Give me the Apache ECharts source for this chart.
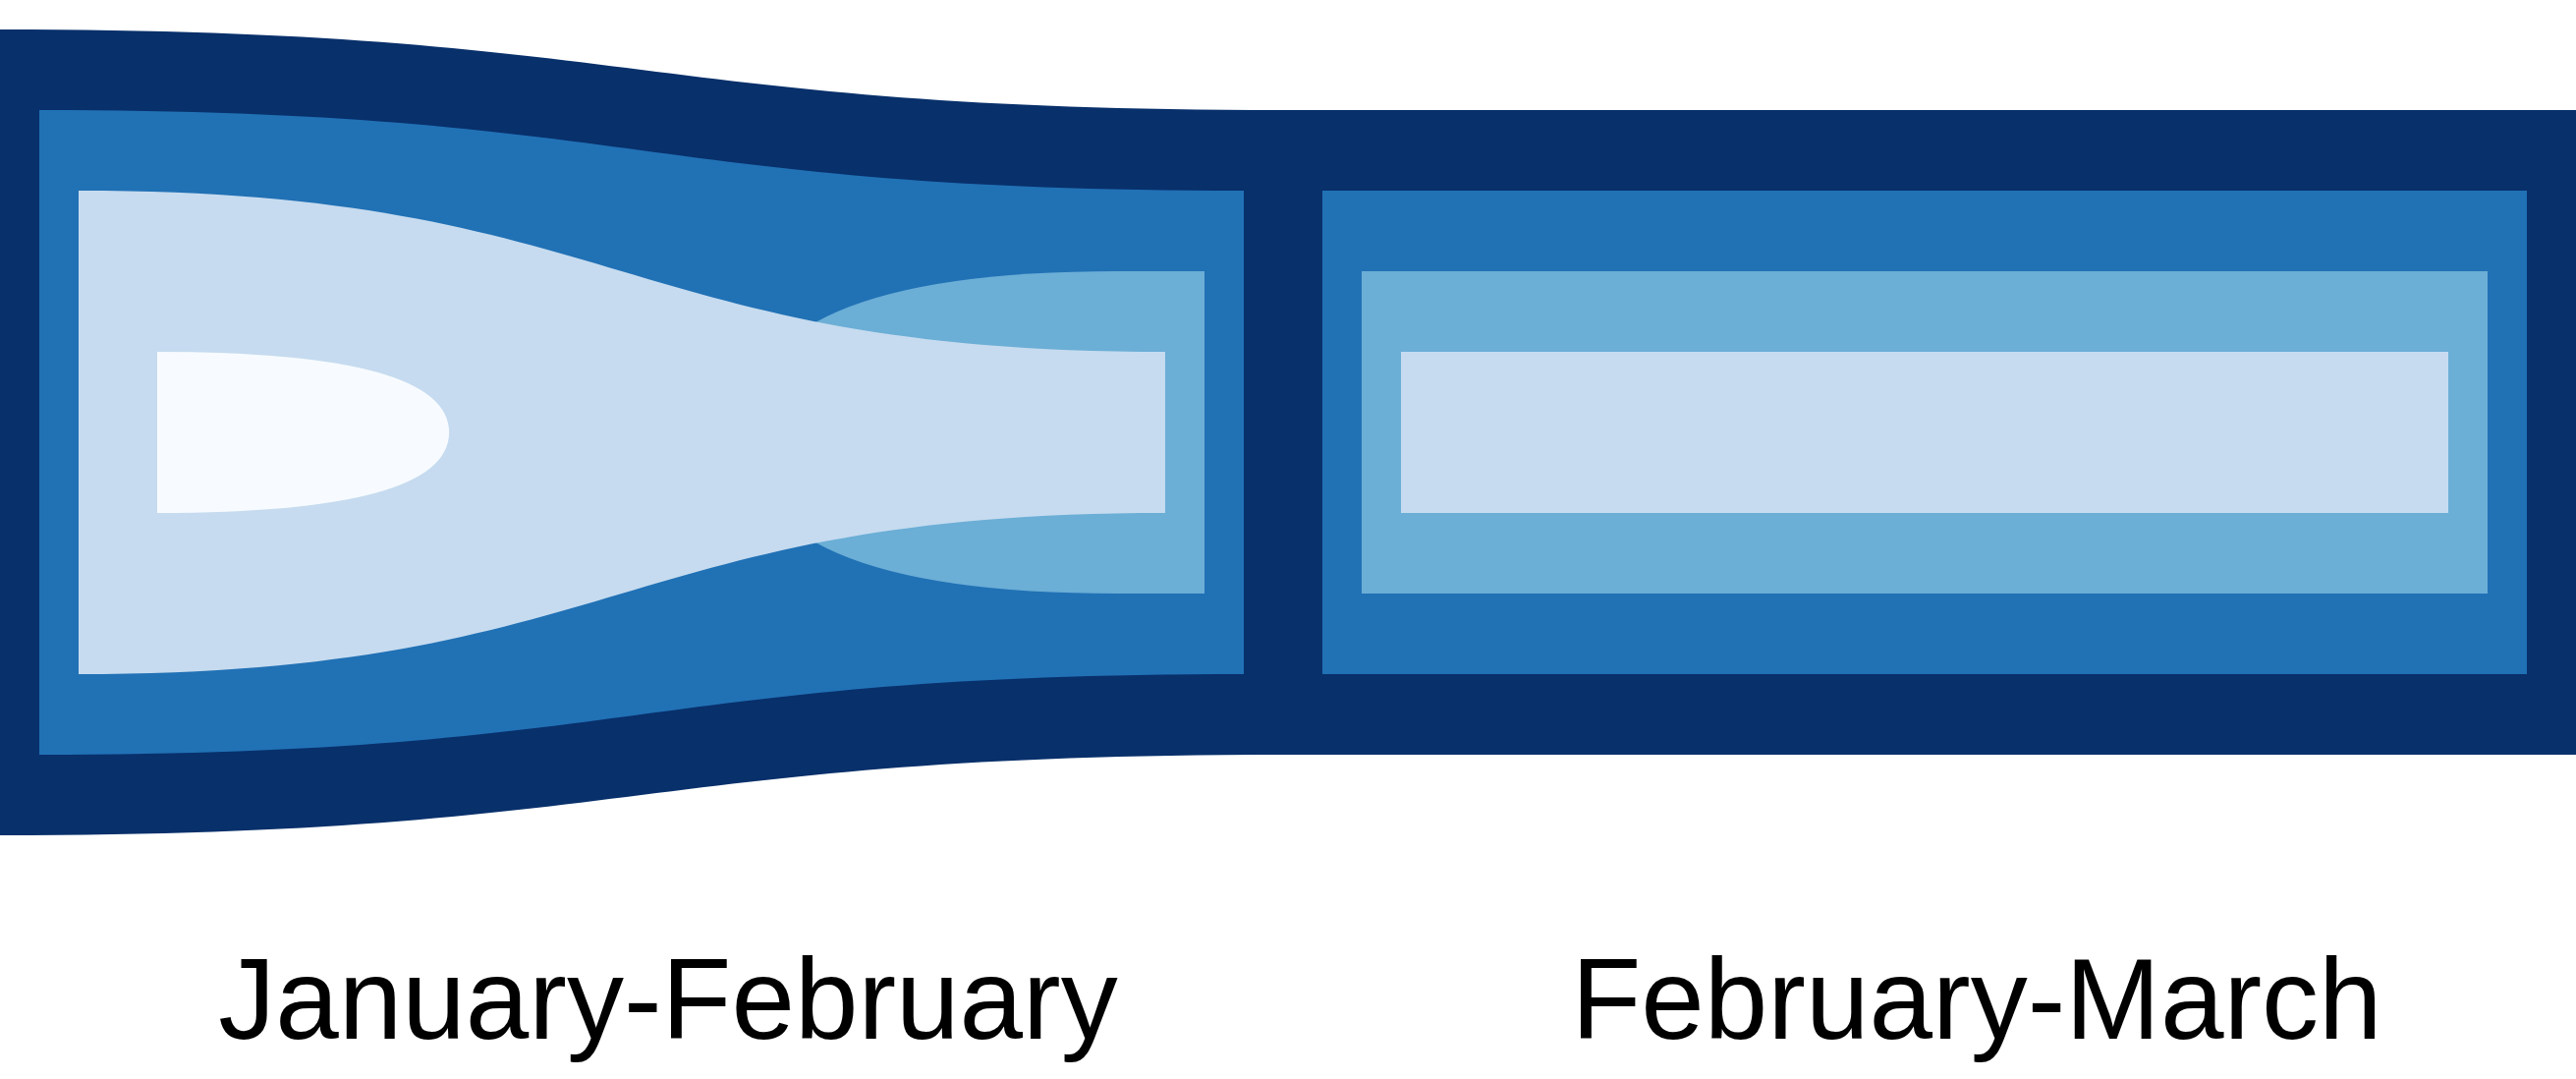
<!DOCTYPE html>
<html><head><meta charset="utf-8">
<script src="https://cdn.jsdelivr.net/npm/echarts@6/dist/echarts.min.js"></script>
<style>html,body{margin:0;padding:0;background:#fff}#c{width:2622px;height:1098px}</style>
</head><body><div id="c"></div>
<script>
// ---- data ----
const periods = ['January-February', 'February-March'];
const setNames = ['A', 'B', 'C', 'D', 'E'];
// band height (units) of each set at the start / end of each period
const heightJanFebStart = [10, 8, 6, 0, 2];
const heightJanFebEnd   = [8, 6, 2, 4, 0];
const heightFebMarStart = [8, 6, 2, 4, 0];
const heightFebMarEnd   = [8, 6, 2, 4, 0];
// nesting depth of each set at the start / end of each period
const depthJanFebStart = [0, 1, 2, 2, 4];
const depthJanFebEnd   = [0, 1, 3, 2, 4];
const depthFebMarStart = [0, 1, 3, 2, 4];
const depthFebMarEnd   = [0, 1, 3, 2, 4];
// birth of D and death of E inside January-February (fraction of the period)
const birthD = [0.58, 0.871];
const deathE = 0.35;
// drawing order of the sets
const drawOrder = [0, 1, 3, 2, 4];

// ---- styles ----
const setColors = ['#08306b', '#2171b5', '#c6dbef', '#6baed6', '#f7fbff'];
const INSET = 40; // px horizontal inset per nesting level

const starts = [heightJanFebStart, heightFebMarStart];
const ends = [heightJanFebEnd, heightFebMarEnd];
const dStarts = [depthJanFebStart, depthFebMarStart];
const dEnds = [depthJanFebEnd, depthFebMarEnd];

const items = [];
periods.forEach((p, pi) => {
  drawOrder.forEach(si => {
    if (starts[pi][si] === 0 && ends[pi][si] === 0) return;
    items.push([pi, si]);
  });
});

function renderItem(params, api) {
  const pi = api.value(0), si = api.value(1);
  const cs = params.coordSys;
  const h0 = starts[pi][si], h1 = ends[pi][si];
  let xl = api.coord([pi, 0])[0] + INSET * dStarts[pi][si];
  let xr = api.coord([pi + 1, 0])[0] - INSET * dEnds[pi][si];
  if (dEnds[pi][si] === 0 && pi === periods.length - 1) xr = cs.x + cs.width;
  const yc = api.coord([0, 0])[1];
  const yT0 = api.coord([0, h0 / 2])[1], yB0 = api.coord([0, -h0 / 2])[1];
  const yT1 = api.coord([0, h1 / 2])[1], yB1 = api.coord([0, -h1 / 2])[1];
  let d;
  if (h0 === 0) {
    // set is born: grows out of the centre line
    const xa = api.coord([pi + birthD[0], 0])[0];
    const xb = api.coord([pi + birthD[1], 0])[0];
    d = `M${xa} ${yc} Q${xa} ${yT1} ${xb} ${yT1} L${xr} ${yT1} L${xr} ${yB1} L${xb} ${yB1} Q${xa} ${yB1} ${xa} ${yc} Z`;
  } else if (h1 === 0) {
    // set dies: shrinks into the centre line
    const xt = api.coord([pi + deathE, 0])[0];
    d = `M${xl} ${yT0} Q${xt} ${yT0} ${xt} ${yc} Q${xt} ${yB0} ${xl} ${yB0} Z`;
  } else {
    const xm = (xl + xr) / 2;
    d = `M${xl} ${yT0} C${xm} ${yT0} ${xm} ${yT1} ${xr} ${yT1} L${xr} ${yB1} C${xm} ${yB1} ${xm} ${yB0} ${xl} ${yB0} Z`;
  }
  return {
    type: 'path',
    shape: { pathData: d },
    style: { fill: setColors[si], stroke: null }
  };
}

const chart = echarts.init(document.getElementById('c'), null, { renderer: 'canvas' });
chart.setOption({
  animation: false,
  backgroundColor: '#ffffff',
  grid: [
    { left: 0, top: 0, width: 2622, height: 880, containLabel: false, outerBoundsMode: 'none' },
    { left: 14, top: 0, width: 2664, height: 950, containLabel: false, outerBoundsMode: 'none' }
  ],
  xAxis: [
    { type: 'value', gridIndex: 0, min: 0, max: 2622 / 1306, show: false },
    { type: 'category', gridIndex: 1, data: periods,
      axisLine: { show: false }, axisTick: { show: false }, splitLine: { show: false },
      axisLabel: { margin: 17, fontSize: 116, color: '#000000', hideOverlap: false,
        fontFamily: '"Liberation Sans", Arial, sans-serif', fontWeight: 'normal' } }
  ],
  yAxis: [
    { type: 'value', gridIndex: 0, min: -440 / 82, max: 440 / 82, show: false },
    { type: 'value', gridIndex: 1, show: false }
  ],
  series: [
    { type: 'custom', xAxisIndex: 0, yAxisIndex: 0, renderItem, data: items, silent: true },
    { type: 'scatter', xAxisIndex: 1, yAxisIndex: 1, data: [], silent: true }
  ]
});
</script></body></html>
